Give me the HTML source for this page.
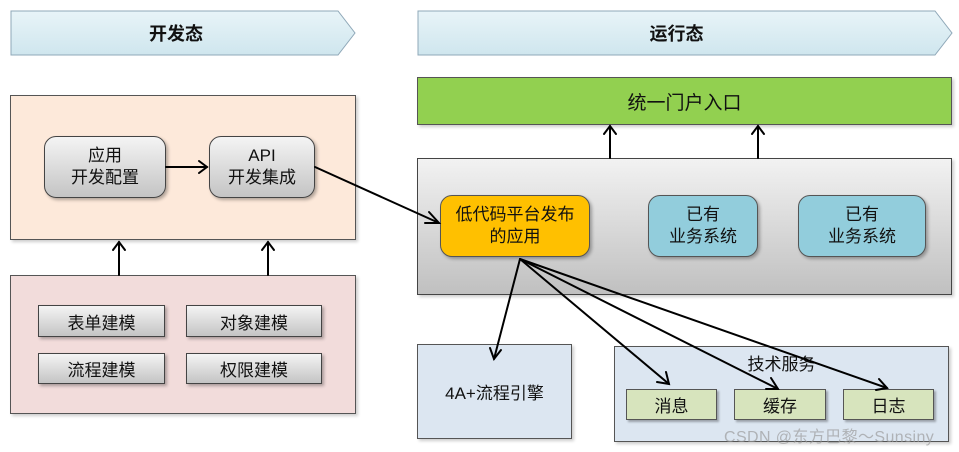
<!DOCTYPE html>
<html><head><meta charset="utf-8"><style>
body{margin:0;width:959px;height:452px;background:#fff;position:relative;overflow:hidden;font-family:"Liberation Sans","Noto Sans CJK SC",sans-serif;}
.a{position:absolute;box-sizing:border-box;display:flex;align-items:center;justify-content:center;text-align:center;color:#111;}
.g{background:linear-gradient(#f4f4f4,#c4c4c4);border:1px solid #444;box-shadow:2px 2px 3px rgba(0,0,0,.3);}
.r{border-radius:12px;}
.s{font-size:17px;line-height:22px;}
.b{font-size:17px;}
</style></head><body>
<svg width="959" height="452" style="position:absolute;left:0;top:0">
<defs><linearGradient id="h" x1="0" y1="0" x2="0" y2="1"><stop offset="0" stop-color="#e8f4f8"/><stop offset="1" stop-color="#cfe6ee"/></linearGradient></defs>
<polygon points="11,11 338,11 355,33 338,55 11,55" fill="url(#h)" stroke="#8fa8b8"/>
<polygon points="418,11 935,11 952,33 935,55 418,55" fill="url(#h)" stroke="#8fa8b8"/>
</svg>
<div class="a" style="left:11px;top:11px;width:330px;height:44px;font-weight:bold;font-size:18px">开发态</div>
<div class="a" style="left:418px;top:11px;width:517px;height:44px;font-weight:bold;font-size:18px">运行态</div>

<div class="a" style="left:10px;top:95px;width:346px;height:145px;background:#fde9da;border:1px solid #555;box-shadow:2px 2px 3px rgba(0,0,0,.2)"></div>
<div class="a g r s" style="left:44px;top:136px;width:122px;height:62px">应用<br>开发配置</div>
<div class="a g r s" style="left:209px;top:136px;width:106px;height:62px">API<br>开发集成</div>

<div class="a" style="left:10px;top:275px;width:346px;height:139px;background:#f2dcdb;border:1px solid #555;box-shadow:2px 2px 3px rgba(0,0,0,.2)"></div>
<div class="a g b" style="left:38px;top:305px;width:127px;height:32px">表单建模</div>
<div class="a g b" style="left:186px;top:305px;width:136px;height:32px">对象建模</div>
<div class="a g b" style="left:38px;top:353px;width:127px;height:31px">流程建模</div>
<div class="a g b" style="left:186px;top:353px;width:136px;height:31px">权限建模</div>

<div class="a" style="left:417px;top:77px;width:535px;height:48px;background:#92d050;border:1px solid #555;font-size:19px;box-shadow:2px 2px 3px rgba(0,0,0,.2)">统一门户入口</div>
<div class="a" style="left:417px;top:158px;width:535px;height:137px;background:linear-gradient(#f2f2f2,#c0c0c0);border:1px solid #444;box-shadow:2px 2px 3px rgba(0,0,0,.2)"></div>
<div class="a r s" style="left:440px;top:195px;width:150px;height:62px;background:#ffc000;border:1px solid #555;box-shadow:2px 2px 3px rgba(0,0,0,.3)">低代码平台发布<br>的应用</div>
<div class="a r s" style="left:648px;top:195px;width:110px;height:62px;background:#92cddc;border:1px solid #555;box-shadow:2px 2px 3px rgba(0,0,0,.3)">已有<br>业务系统</div>
<div class="a r s" style="left:798px;top:195px;width:128px;height:62px;background:#92cddc;border:1px solid #555;box-shadow:2px 2px 3px rgba(0,0,0,.3)">已有<br>业务系统</div>

<div class="a b" style="left:417px;top:344px;width:155px;height:95px;background:#dce6f1;border:1px solid #555;box-shadow:2px 2px 3px rgba(0,0,0,.2)">4A+流程引擎</div>
<div class="a" style="left:614px;top:346px;width:335px;height:96px;background:#dce6f1;border:1px solid #555;box-shadow:2px 2px 3px rgba(0,0,0,.2)"></div>
<div class="a b" style="left:614px;top:350px;width:335px;height:24px">技术服务</div>
<div class="a b" style="left:626px;top:389px;width:91px;height:31px;background:#d7e4bd;border:1px solid #555;box-shadow:2px 2px 2px rgba(0,0,0,.3)">消息</div>
<div class="a b" style="left:734px;top:389px;width:92px;height:31px;background:#d7e4bd;border:1px solid #555;box-shadow:2px 2px 2px rgba(0,0,0,.3)">缓存</div>
<div class="a b" style="left:843px;top:389px;width:91px;height:31px;background:#d7e4bd;border:1px solid #555;box-shadow:2px 2px 2px rgba(0,0,0,.3)">日志</div>
<div style="position:absolute;left:724px;top:423px;font-size:16px;letter-spacing:0.4px;color:rgba(150,150,150,.65);white-space:nowrap">CSDN @东方巴黎～Sunsiny</div>

<svg width="959" height="452" style="position:absolute;left:0;top:0" fill="none" stroke="#000" stroke-width="2">
<g stroke-linecap="round">
<line x1="166" y1="167" x2="207" y2="167"/><polyline points="199,161 207,167 199,173"/>
<line x1="119" y1="275" x2="119" y2="242"/><polyline points="113,250 119,242 125,250"/>
<line x1="268" y1="275" x2="268" y2="242"/><polyline points="262,250 268,242 274,250"/>
<line x1="610" y1="158" x2="610" y2="126"/><polyline points="604,134 610,126 616,134"/>
<line x1="758" y1="158" x2="758" y2="126"/><polyline points="752,134 758,126 764,134"/>
<line x1="315" y1="167" x2="439" y2="223"/><polyline points="429,212 439,223 425,223"/>
<line x1="520" y1="259" x2="494" y2="359"/><polyline points="490,348 494,359 501,350"/>
<line x1="520" y1="259" x2="669" y2="384"/><polyline points="657,382 669,384 666,372"/>
<line x1="520" y1="259" x2="778" y2="389"/><polyline points="766,389 778,389 771,378"/>
<line x1="520" y1="259" x2="887" y2="388"/><polyline points="876,390 887,388 879,379"/>
</g></svg>
</body></html>
